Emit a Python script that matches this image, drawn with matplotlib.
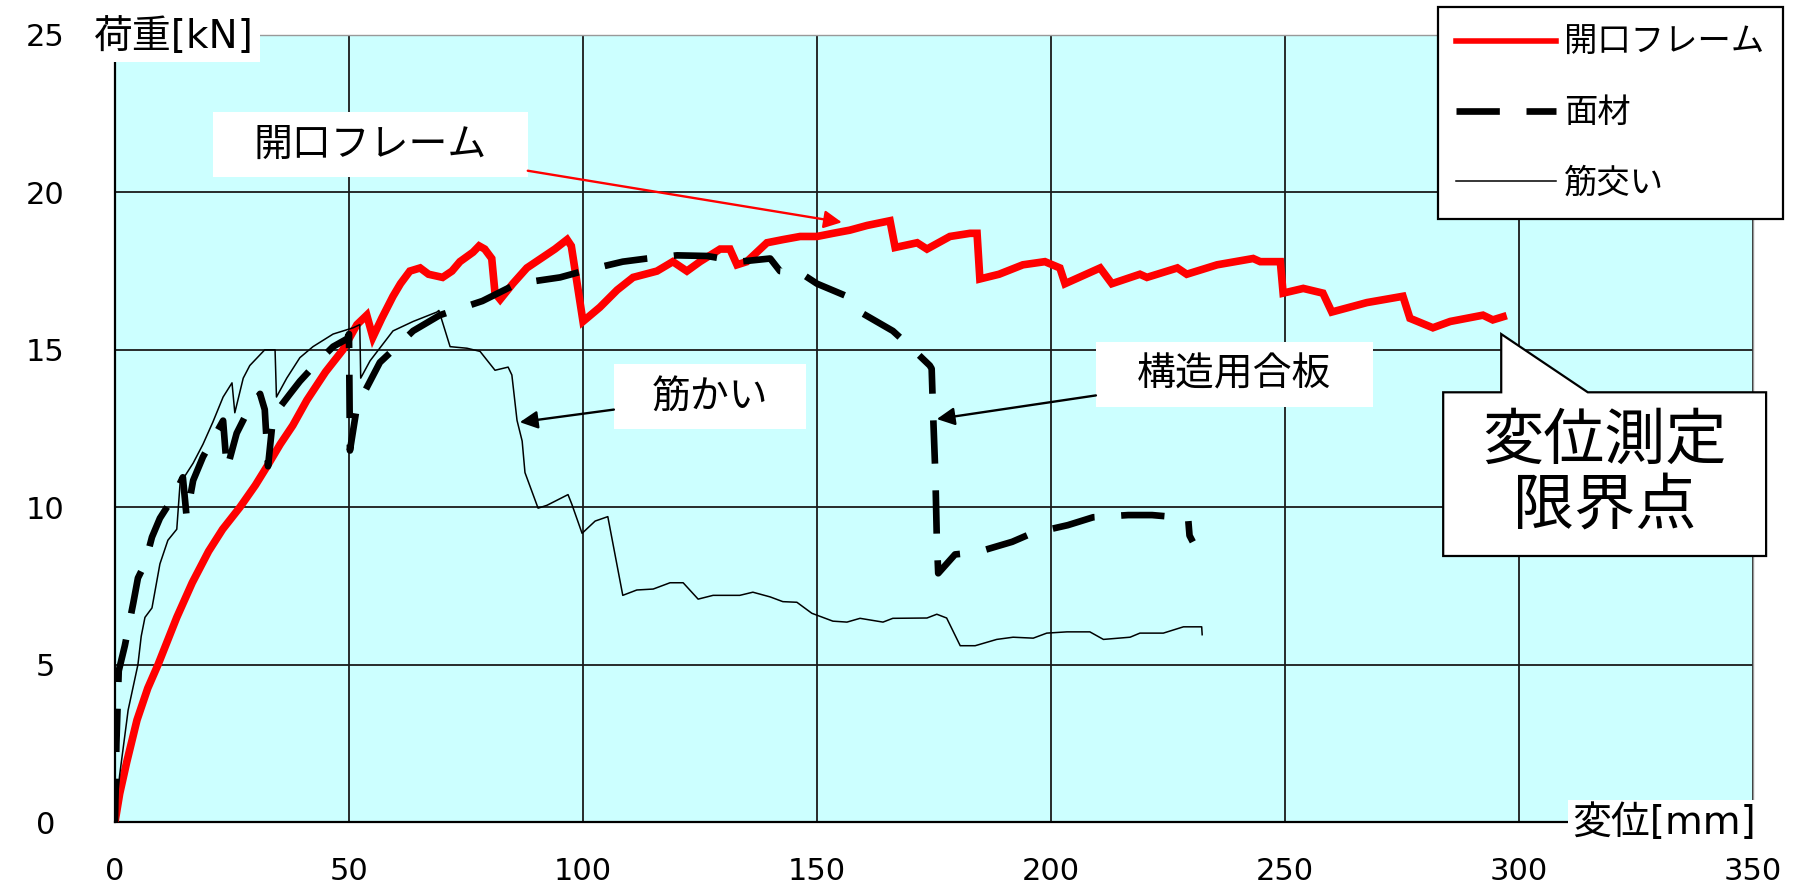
import matplotlib
matplotlib.use('Agg')
import matplotlib.pyplot as plt
from matplotlib.lines import Line2D
from matplotlib.patches import Polygon, Rectangle

plt.rcParams['font.family'] = ['Noto Sans CJK JP', 'DejaVu Sans']

# 開口フレーム (open frame) - thick red
frame_x = [0, 1, 2.5, 4.7, 7, 9.2, 13.2, 16.5, 20, 23, 26.7, 30, 32.5, 35.3, 38, 41, 45, 48.7,
           51.7, 53.8, 55.1, 57, 59.4, 61, 63, 65.2, 67, 70, 72, 73.7, 76.5, 77.8, 79, 80.5, 81.2,
           82.3, 85, 88, 91, 94, 96.6, 97.5, 100, 103.6, 107.3, 110.7, 115.8, 119.2, 122.2, 125,
           129.3, 131.4, 132.9, 135, 139.3, 142.7, 146.4, 150, 153.4, 157, 160.7, 165.6, 166.7,
           171.4, 173.5, 178.4, 182.7, 184.2, 184.8, 188.9, 194, 198.7, 201.9, 203, 206, 210.5,
           213, 219, 220.5, 227, 229, 235.5, 243.2, 244.7, 249, 249.6, 253.9, 258.1, 260, 267.5,
           275.2, 276.7, 281.6, 285.3, 292.3, 294.4, 296.6]
frame_y = [0, 0.9, 1.9, 3.24, 4.25, 5.0, 6.5, 7.6, 8.6, 9.3, 10.0, 10.7, 11.3, 12.0, 12.6, 13.4, 14.3, 15.0,
           15.8, 16.1, 15.4, 16.0, 16.7, 17.1, 17.5, 17.6, 17.4, 17.3, 17.5, 17.8, 18.1, 18.3, 18.2, 17.9, 16.8,
           16.6, 17.1, 17.6, 17.9, 18.2, 18.5, 18.3, 15.9, 16.35, 16.9, 17.3, 17.5, 17.8, 17.5, 17.8,
           18.2, 18.2, 17.7, 17.8, 18.4, 18.5, 18.6, 18.6, 18.7, 18.8, 18.95, 19.1, 18.25,
           18.4, 18.2, 18.6, 18.7, 18.7, 17.25, 17.4, 17.7, 17.8, 17.6, 17.1, 17.3, 17.6,
           17.1, 17.4, 17.3, 17.6, 17.4, 17.7, 17.9, 17.8, 17.8, 16.8, 16.95, 16.8, 16.2, 16.5,
           16.7, 16.0, 15.7, 15.9, 16.1, 15.95, 16.05]

# 面材 (sheathing) - thick dashed black
panel_x = [0, 0.3, 0.8, 2.1, 3.9, 4.9, 6.4, 7.9, 9.6, 11.1, 12.4, 14.5, 15.3, 16.7, 18.8, 20.3, 23.1,
           23.9, 26, 28.2, 31, 32, 32.7, 33.8, 37.4, 39.5, 43.2, 46.6, 49.6, 50.0, 50.2, 51.7, 53.8,
           56.6, 60.9, 63.7, 69.4, 78.5, 85.9, 95.1, 100, 108.5, 113.7, 120.1, 126.5, 133.5, 140,
           142.1, 146.4, 150, 156.4, 159.8, 166.2, 169.9, 174.1, 174.5, 174.8, 175.3, 175.6, 175.9,
           179.5, 184.2, 191.7, 195.9, 203.6, 209, 216.5, 221.6, 229.3, 229.6, 230.3]
panel_y = [0, 2.5, 4.8, 5.6, 6.95, 7.75, 8.2, 9.05, 9.65, 10.0, 10.3, 10.95, 9.7, 10.85, 11.6, 12.0, 12.75,
           11.2, 12.35, 13.0, 13.6, 13.1, 11.3, 12.9, 13.6, 14.0, 14.6, 15.1, 15.35, 15.5, 11.8, 13.2, 13.8,
           14.6, 15.2, 15.6, 16.1, 16.55, 17.1, 17.3, 17.5, 17.8, 17.9, 18.0, 17.98, 17.8, 17.9,
           17.5, 17.45, 17.1, 16.7, 16.15, 15.6, 15.1, 14.5, 14.4, 13.0, 11.0, 9.0, 7.9,
           8.5, 8.57, 8.9, 9.17, 9.43, 9.68, 9.75, 9.75, 9.65, 9.1, 8.9]

# 筋交い (brace) - thin black
brace_x = [0, 1.0, 2.5, 2.8, 4.9, 5.6, 6.4, 7.9, 9.6, 11.3, 13.2, 13.9, 16.7, 18.8, 20.9, 23.1, 25,
           25.6, 27.4, 28.8, 32, 34.2, 34.5, 36.7, 39.5, 42.3, 46.6, 50.9, 52.3, 52.5, 54.5, 59.4,
           63.7, 68.8, 69.2, 71.6, 75.2, 78, 81.2, 84, 84.8, 85.9, 87, 87.6, 90.4, 92.3, 96.8, 97.6,
           99.8, 102.6, 105.3, 108.5, 111.5, 115, 118.6, 121.4, 124.6, 127.8, 133.5, 136.3, 140,
           142.7, 145.7, 148.9, 153.4, 156.4, 159.2, 164.1, 166.2, 173.5, 175.6, 177.7, 180.6,
           183.8, 188.4, 191.9, 196.2, 199.1, 203.4, 208.3, 211.2, 216.9, 219, 224, 228.3, 232.2, 232.3]
brace_y = [0, 1.5, 3.2, 3.55, 5.0, 5.9, 6.5, 6.8, 8.2, 8.95, 9.3, 10.75, 11.4, 12.0, 12.7, 13.5, 13.95,
           13.0, 14.1, 14.5, 15.0, 15.0, 13.5, 14.1, 14.75, 15.1, 15.5, 15.7, 15.8, 14.1, 14.65, 15.6,
           15.9, 16.2, 16.25, 15.1, 15.05, 14.95, 14.35, 14.45, 14.2, 12.76, 12.1, 11.1, 9.97, 10.06, 10.4, 10.1,
           9.17, 9.56, 9.7, 7.2, 7.37, 7.4, 7.6, 7.6, 7.08, 7.2, 7.2, 7.3, 7.15,
           7.0, 6.98, 6.63, 6.38, 6.35, 6.47, 6.35, 6.47, 6.48, 6.6, 6.48, 5.6,
           5.6, 5.8, 5.87, 5.84, 6.0, 6.04, 6.04, 5.8, 5.87, 6.0, 6.0, 6.2, 6.2, 5.95]

labels = ['開口フレーム', '面材', '筋交い']
x_ticks = [0, 50, 100, 150, 200, 250, 300, 350]
y_ticks = [0, 5, 10, 15, 20, 25]

fig = plt.figure(figsize=(17.98, 8.9), dpi=100)
ax = fig.add_axes([115 / 1798, 1 - 822 / 890, (1753 - 115) / 1798, (822 - 35) / 890])
ax.set_facecolor('#ccffff')
ax.set_xlim(0, 350)
ax.set_ylim(0, 25)
ax.set_xticks(x_ticks)
ax.set_yticks(y_ticks)
ax.set_axisbelow(True)
ax.grid(True, color='#1a1a1a', lw=1.3)
ax.tick_params(length=0, labelsize=22)
ax.tick_params(axis='x', pad=25)
ax.tick_params(axis='y', pad=50)
for tl in ax.get_xticklabels() + ax.get_yticklabels():
    tl.set_family('DejaVu Sans')
for tl in ax.get_yticklabels():
    tl.set_ha('center')
for s in ['left', 'bottom']:
    ax.spines[s].set_color('black')
    ax.spines[s].set_linewidth(1.6)
for s in ['top', 'right']:
    ax.spines[s].set_color('#999999')
    ax.spines[s].set_linewidth(1.0)

ax.plot(frame_x, frame_y, color='#ff0000', lw=5.5, solid_joinstyle='miter', zorder=3)
ax.plot(panel_x, panel_y, color='black', lw=4.8, dashes=(6.5, 4), zorder=4)
ax.plot(brace_x, brace_y, color='black', lw=1.1, zorder=5)

# legend
handles = [Line2D([], [], color='#ff0000', lw=4),
           Line2D([], [], color='black', lw=4.8, dashes=(6.5, 4)),
           Line2D([], [], color='black', lw=1.1)]
leg = ax.legend(handles, labels, loc='upper right', bbox_to_anchor=(1783 / 1798, 1 - 7 / 890),
                bbox_transform=fig.transFigure, fancybox=False, edgecolor='black', framealpha=1,
                fontsize=24, handlelength=3.0, handletextpad=0.25, borderpad=0.55,
                labelspacing=1.05, borderaxespad=0)
leg.get_frame().set_linewidth(1.6)
leg.set_zorder(10)


# annotation with a white label box and an arrow to the curve
def label_box(text, x0, x1, y0, y1, target, color):
    rect = Rectangle((x0, y0), x1 - x0, y1 - y0, fc='white', ec='none', zorder=7)
    ax.add_patch(rect)
    ax.annotate(text, xy=target, xytext=((x0 + x1) / 2, (y0 + y1) / 2), fontsize=28,
                ha='center', va='center', zorder=8,
                arrowprops=dict(arrowstyle='-|>', color=color, lw=1.7, mutation_scale=27,
                                shrinkA=0, shrinkB=0, patchA=rect))


label_box('開口フレーム', 20.9, 88.2, 20.48, 22.54, (155.3, 19.05), '#ff0000')
label_box('筋かい', 106.6, 147.6, 12.48, 14.54, (86.5, 12.7), 'black')
label_box('構造用合板', 209.6, 268.8, 13.17, 15.24, (175.6, 12.8), 'black')

# callout for measuring limit
callout = Polygon([(283.8, 13.65), (296.2, 13.65), (296.2, 15.5), (314.7, 13.65), (352.8, 13.65),
                   (352.8, 8.45), (283.8, 8.45)], closed=True, fc='white', ec='black',
                  lw=1.6, clip_on=False, zorder=8)
ax.add_patch(callout)
ax.text(318.3, 11.05, '変位測定\n限界点', fontsize=44, ha='center', va='center',
        linespacing=1.05, zorder=9, clip_on=False)

# axis titles
fig.text(94 / 1798, 1 - 37 / 890, '荷重[kN]', fontsize=28, ha='left', va='center',
         family=['DejaVu Sans', 'Noto Sans CJK JP'],
         bbox=dict(boxstyle='square,pad=0.15', fc='white', ec='none'))
fig.text(1572 / 1798, 1 - 823 / 890, '変位[mm]', fontsize=28, ha='left', va='center',
         family=['DejaVu Sans', 'Noto Sans CJK JP'],
         bbox=dict(boxstyle='square,pad=0.1', fc='white', ec='none'))

fig.savefig('out.png', dpi=100)
